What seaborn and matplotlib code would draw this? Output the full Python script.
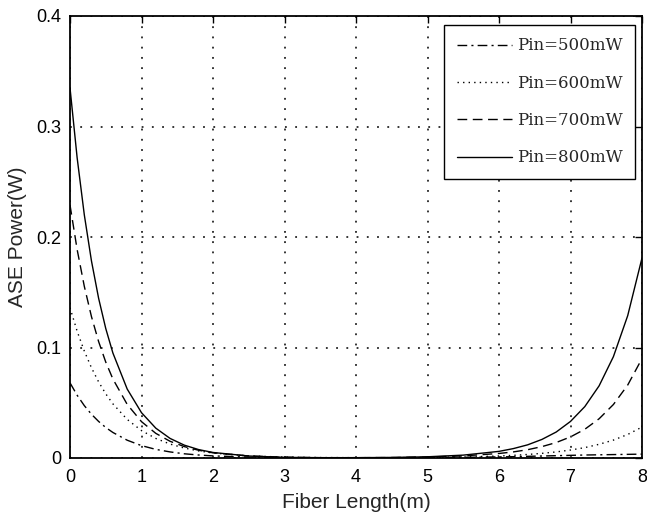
import numpy as np
import pandas as pd
import matplotlib
matplotlib.use('Agg')
import matplotlib.pyplot as plt
import seaborn as sns

length = [0, 0.1, 0.2, 0.3, 0.4, 0.5, 0.6, 0.8, 1.0, 1.2, 1.4, 1.6, 1.8, 2.0,
          2.5, 3.0, 3.5, 4.0, 4.5, 5.0, 5.5, 6.0, 6.2, 6.4, 6.6, 6.8, 7.0,
          7.2, 7.4, 7.6, 7.8, 8.0]

# ASE power (W) per pump level
p500 = [0.068, 0.0568, 0.0474, 0.0396, 0.0331, 0.0276, 0.0231, 0.0161, 0.0112,
        0.0078, 0.0055, 0.0038, 0.0027, 0.0019, 0.0008, 0.0004, 0.0002, 0.0002,
        0.0003, 0.0004, 0.0006, 0.0010, 0.0012, 0.0015, 0.0018, 0.0021, 0.0024,
        0.0027, 0.0029, 0.0031, 0.0033, 0.0035]
p600 = [0.136, 0.1147, 0.0968, 0.0817, 0.0689, 0.0581, 0.0490, 0.0349, 0.0248,
        0.0177, 0.0126, 0.0090, 0.0064, 0.0045, 0.0019, 0.0008, 0.0004, 0.0003,
        0.0003, 0.0005, 0.0009, 0.0018, 0.0024, 0.0032, 0.0042, 0.0055, 0.0072,
        0.0094, 0.0124, 0.0162, 0.0213, 0.0280]
p700 = [0.229, 0.1886, 0.1554, 0.1280, 0.1054, 0.0868, 0.0715, 0.0485, 0.0329,
        0.0223, 0.0151, 0.0103, 0.0070, 0.0047, 0.0018, 0.0007, 0.0003, 0.0003,
        0.0004, 0.0009, 0.0019, 0.0041, 0.0055, 0.0075, 0.0103, 0.0140, 0.0191,
        0.0260, 0.0355, 0.0484, 0.0660, 0.0900]
p800 = [0.335, 0.2716, 0.2201, 0.1784, 0.1446, 0.1172, 0.0950, 0.0624, 0.0410,
        0.0270, 0.0177, 0.0116, 0.0076, 0.0050, 0.0018, 0.0006, 0.0003, 0.0003,
        0.0005, 0.0011, 0.0026, 0.0060, 0.0085, 0.0119, 0.0168, 0.0235, 0.0331,
        0.0465, 0.0653, 0.0917, 0.1288, 0.1810]

labels = ['Pin=500mW', 'Pin=600mW', 'Pin=700mW', 'Pin=800mW']

frames = []
for lab, vals in zip(labels, [p500, p600, p700, p800]):
    frames.append(pd.DataFrame({'length': length, 'power': vals, 'series': lab}))
df = pd.concat(frames, ignore_index=True)

sns.set_style('white')
plt.rcParams['font.family'] = ['Liberation Sans', 'DejaVu Sans']

fig, ax = plt.subplots(figsize=(6.47, 5.15), dpi=100)
fig.subplots_adjust(left=70/647, right=642/647, bottom=1-458/515, top=1-16/515)

dash_map = {
    'Pin=500mW': (7, 3, 1.5, 3),
    'Pin=600mW': (1, 3),
    'Pin=700mW': (7, 4),
    'Pin=800mW': '',
}
sns.lineplot(data=df, x='length', y='power', hue='series', style='series',
             palette={l: 'black' for l in labels}, dashes=dash_map,
             linewidth=1.0, ax=ax, legend=True)

ax.set_xlim(0, 8)
ax.set_ylim(0, 0.4)
ax.set_xticks(range(0, 9))
ax.set_yticks([0, 0.1, 0.2, 0.3, 0.4])
ax.set_yticklabels(['0', '0.1', '0.2', '0.3', '0.4'])
ax.grid(True, linestyle=(0, (1.2, 5.5)), color='black', linewidth=1.1)
ax.tick_params(direction='in', length=5, width=1, top=True, right=True,
               labelsize=13, colors='black')
ax.tick_params(axis='x', pad=8)
ax.tick_params(axis='y', pad=6)
for sp in ax.spines.values():
    sp.set_visible(True)
    sp.set_color('black')
    sp.set_linewidth(1.3)

ax.set_xlabel('Fiber Length(m)', fontsize=15, labelpad=5)
ax.set_ylabel('ASE Power(W)', fontsize=15, labelpad=7)

handles, labs = ax.get_legend_handles_labels()
leg = ax.legend(handles, labs, loc='upper right', bbox_to_anchor=(0.988, 0.98),
                borderaxespad=0, fancybox=False, framealpha=1, edgecolor='black',
                handlelength=3.3, labelspacing=1.22, handletextpad=0.3,
                borderpad=0.75, prop={'family': 'DejaVu Serif', 'size': 12})
leg.get_frame().set_linewidth(1.0)

plt.savefig('out.png', dpi=100)
